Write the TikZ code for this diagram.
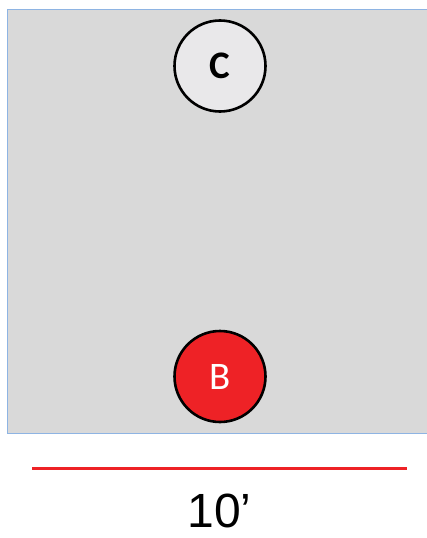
\documentclass[tikz,border=0pt]{standalone}
\usepackage{fontspec}
\setmainfont{Liberation Sans}
\newfontfamily\calib{Carlito}
\usepackage{tikz}
\usetikzlibrary{positioning}
\definecolor{floorgray}{HTML}{D9D9D9}
\definecolor{edgeblue}{HTML}{8EB4E3}
\definecolor{ballred}{HTML}{EE2226}
\definecolor{ballgray}{HTML}{E9E8EA}

\begin{document}
\begin{tikzpicture}[x=1pt,y=1pt,
    ball/.style={circle,draw=black,line width=2.6pt,minimum size=91pt,inner sep=0pt}]
    \useasboundingbox (0,0) rectangle (427,-538);
    % floor
    \draw[fill=floorgray,draw=edgeblue,line width=1pt] (7.5,-9) rectangle (430,-433);
    % balls
    \node[ball,fill=ballgray] (c) at (220,-66) {\calib\fontsize{39}{39}\selectfont\bfseries C};
    \node[ball,fill=ballred,text=white] (b) at (220,-376.5) {\calib\fontsize{39}{39}\selectfont B};
    % scale line
    \coordinate (sl) at (32,-468.5);
    \coordinate (sr) at (407,-468.5);
    \draw[ballred,line width=3pt] (sl) -- (sr);
    \node[inner sep=0pt] (len) at (219.5,-510.5) {\fontsize{48}{48}\selectfont 10’};
\end{tikzpicture}
\end{document}
